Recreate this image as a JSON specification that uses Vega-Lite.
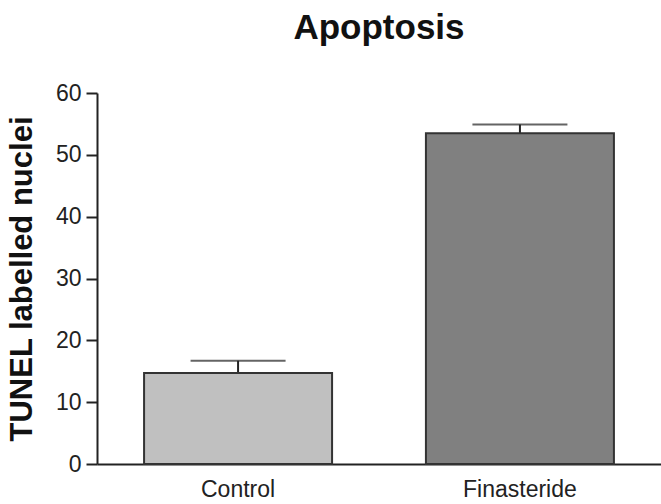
{
  "$schema": "https://vega.github.io/schema/vega-lite/v6.json",
  "autosize": "none",
  "width": 564,
  "height": 371,
  "padding": {"left": 97, "top": 93, "right": 0, "bottom": 40},
  "background": "white",
  "title": {
    "text": "Apoptosis",
    "font": "Liberation Sans",
    "fontSize": 35,
    "fontWeight": "bold",
    "color": "#111111",
    "anchor": "middle",
    "offset": 36
  },
  "config": {
    "view": {"stroke": null},
    "font": "Liberation Sans"
  },
  "data": {
    "values": [
      {"group": "Control", "value": 14.7, "upper": 16.7, "fill": "Control"},
      {"group": "Finasteride", "value": 53.5, "upper": 54.9, "fill": "Finasteride"}
    ]
  },
  "encoding": {
    "x": {
      "field": "group",
      "type": "nominal",
      "sort": null,
      "scale": {"paddingInner": 0.333, "paddingOuter": 0.167},
      "axis": {
        "title": null,
        "labelAngle": 0,
        "labelFont": "Liberation Sans",
        "labelFontSize": 23,
        "labelColor": "#222222",
        "labelPadding": 14,
        "ticks": false,
        "domainColor": "#222222",
        "domainWidth": 2
      }
    }
  },
  "layer": [
    {
      "mark": {"type": "rule", "color": "#222222", "strokeWidth": 2},
      "encoding": {
        "y": {"field": "value", "type": "quantitative"},
        "y2": {"field": "upper"}
      }
    },
    {
      "mark": {"type": "tick", "color": "#222222", "thickness": 2, "size": 95},
      "encoding": {
        "y": {"field": "upper", "type": "quantitative"}
      }
    },
    {
      "mark": {"type": "bar", "stroke": "#333333", "strokeWidth": 2},
      "encoding": {
        "y": {
          "field": "value",
          "type": "quantitative",
          "scale": {"domain": [0, 60], "nice": false},
          "axis": {
            "title": "TUNEL labelled nuclei",
            "titleFont": "Liberation Sans",
            "titleFontSize": 31,
            "titleFontWeight": "bold",
            "titleColor": "#111111",
            "titlePadding": 17,
            "values": [0, 10, 20, 30, 40, 50, 60],
            "grid": false,
            "labelFont": "Liberation Sans",
            "labelFontSize": 23,
            "labelColor": "#222222",
            "labelPadding": 5,
            "tickSize": 11,
            "tickWidth": 2,
            "tickColor": "#222222",
            "domainColor": "#222222",
            "domainWidth": 2
          }
        },
        "fill": {
          "field": "fill",
          "type": "nominal",
          "scale": {"domain": ["Control", "Finasteride"], "range": ["#c0c0c0", "#808080"]},
          "legend": null
        }
      }
    }
  ]
}
